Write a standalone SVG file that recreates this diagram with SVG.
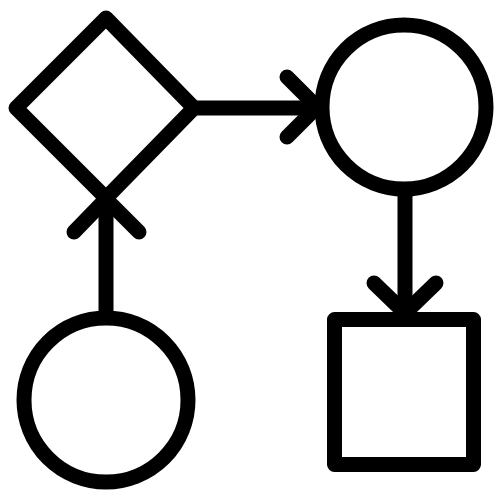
<svg xmlns="http://www.w3.org/2000/svg" width="500" height="500" viewBox="0 0 500 500">
<style>
.s{fill:none;stroke:#000;stroke-width:15;stroke-linecap:round;stroke-linejoin:round}
</style>
<rect width="500" height="500" fill="#fff"/>
<g id="connectors" class="s">
<path d="M194 108H316"/>
<path d="M287 77L317 107L287 137"/>
<path d="M405 190V312"/>
<path d="M374 283L405 313L436 283"/>
<path d="M106 317V199"/>
<path d="M74 232L106 199L139 232"/>
</g>
<g id="decision" class="s"><path d="M106 18L194 108L106 198L16 108Z"/></g>
<g id="circle-top" class="s"><circle cx="404" cy="107" r="82"/></g>
<g id="circle-bottom" class="s"><circle cx="106" cy="400" r="82"/></g>
<g id="square" class="s"><rect x="334.5" y="319.5" width="139" height="145"/></g>
</svg>
